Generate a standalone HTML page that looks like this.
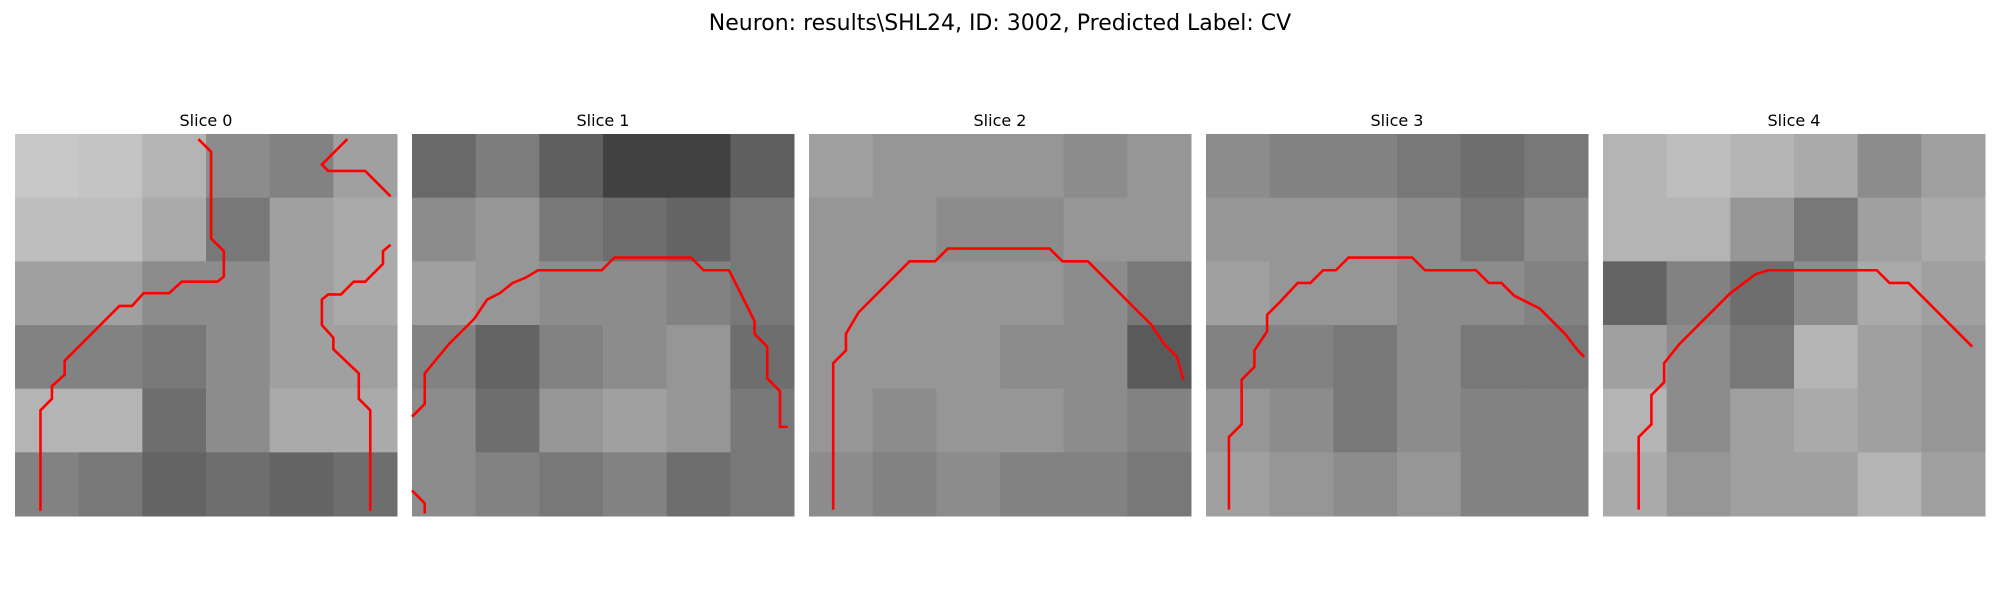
<!DOCTYPE html>
<html><head><meta charset="utf-8"><style>
html,body{margin:0;padding:0;background:#fff;}
body{width:2000px;height:600px;overflow:hidden;font-family:"Liberation Sans","DejaVu Sans",sans-serif;}
</style></head><body>
<svg id="chart" width="2000" height="600" xmlns="http://www.w3.org/2000/svg">
<text x="1000" y="30" font-size="22" text-anchor="middle" font-family="DejaVu Sans, Liberation Sans, sans-serif">Neuron: results\SHL24, ID: 3002, Predicted Label: CV</text>
</svg>
<script>
const sliceTitles = ["Slice 0","Slice 1","Slice 2","Slice 3","Slice 4"];
const brightness0 = [[200,195,180,140,130,160],[190,190,170,120,160,170],[160,160,140,140,160,170],[130,130,120,140,160,160],[180,180,110,140,170,170],[130,120,100,110,100,110]];
const brightness1 = [[105,125,95,65,65,95],[140,150,120,110,100,120],[160,150,140,140,130,120],[130,100,130,140,150,110],[140,110,150,160,150,120],[140,130,120,130,110,120]];
const brightness2 = [[160,150,150,150,140,150],[150,150,140,140,150,150],[150,150,150,150,140,120],[150,150,150,140,140,90],[150,140,150,150,140,130],[140,130,140,130,130,120]];
const brightness3 = [[140,130,130,120,110,120],[150,150,150,140,120,140],[160,150,150,140,140,130],[130,130,120,140,120,120],[150,140,120,140,130,130],[160,150,140,150,130,130]];
const brightness4 = [[180,190,180,170,140,160],[180,180,150,120,160,170],[100,130,110,140,170,160],[160,140,120,180,160,150],[180,140,160,170,160,150],[170,150,160,160,180,160]];
const brightness = [brightness0,brightness1,brightness2,brightness3,brightness4];
const traces0 = [
 [[144,4],[154,14],[154,82],[164,92],[164,112],[159,116],[131,116],[121,125],[101,125],[92,135],[82,135],[39,178],[39,189],[29,198],[29,208],[20,217],[20,296]],
 [[261,4],[241,24],[246,29],[275,29],[295,49]],
 [[295,87],[289,92],[289,102],[275,116],[266,116],[256,126],[246,126],[241,130],[241,150],[250,160],[250,169],[270,188],[270,208],[279,217],[279,296]]];
const traces1 = [
 [[0,222],[10,212],[10,188],[29,165],[39,155],[49,145],[59,130],[69,125],[79,117],[89,113],[99,107],[149,107],[159,97],[219,97],[229,107],[249,107],[259,127],[269,147],[269,157],[279,167],[279,192],[289,202],[289,230],[295,230]],
 [[0,280],[10,290],[10,298]]];
const traces2 = [[[19,295],[19,180],[29,170],[29,157],[39,140],[59,120],[79,100],[99,100],[109,90],[189,90],[199,100],[219,100],[229,110],[239,120],[249,130],[259,140],[269,150],[279,165],[289,175],[294,193]]];
const traces3 = [[[18,295],[18,238],[28,228],[28,193],[38,183],[38,170],[48,155],[48,142],[58,132],[72,117],[82,117],[92,107],[102,107],[112,97],[162,97],[172,107],[212,107],[222,117],[232,117],[242,127],[262,137],[272,147],[282,157],[292,170],[297,175]]];
const traces4 = [[[28,295],[28,238],[38,228],[38,205],[48,195],[48,180],[60,165],[100,125],[120,110],[130,107],[215,107],[225,117],[240,117],[255,132],[290,167]]];
const traces = [traces0,traces1,traces2,traces3,traces4];

const NS="http://www.w3.org/2000/svg";
const svg=document.getElementById('chart');
const PX0=15, STEP=397, PW=382, PY=134, PH=382;
function xs(i,v){return PX0+i*STEP+v/300*PW;}
function ys(v){return PY+v/300*PH;}
for(let i=0;i<5;i++){
  const g=document.createElementNS(NS,'g');
  
  
  svg.appendChild(g);
  const t=document.createElementNS(NS,'text');
  
  
  t.setAttribute('x',PX0+i*STEP+PW/2);t.setAttribute('y',126);
  t.setAttribute('font-size','16');t.setAttribute('text-anchor','middle');
  t.setAttribute('font-family','DejaVu Sans, Liberation Sans, sans-serif');
  t.textContent=sliceTitles[i];g.appendChild(t);
  const grid=brightness[i], n=grid.length, cw=PW/n;
  for(let r=0;r<n;r++)for(let c=0;c<grid[r].length;c++){
    const v=grid[r][c];
    const rc=document.createElementNS(NS,'rect');
    
    
    rc.setAttribute('x',PX0+i*STEP+c*cw);rc.setAttribute('y',PY+r*cw);
    rc.setAttribute('width',cw+0.5);rc.setAttribute('height',cw+0.5);
    rc.setAttribute('fill','rgb('+v+','+v+','+v+')');
    g.appendChild(rc);
  }
  traces[i].forEach((tr,k)=>{
    const p=document.createElementNS(NS,'polyline');
    
    
    p.setAttribute('points',tr.map(q=>xs(i,q[0])+','+ys(q[1])).join(' '));
    p.setAttribute('fill','none');p.setAttribute('stroke','#ff0000');p.setAttribute('stroke-width','2.6');
    g.appendChild(p);
  });
}
</script>
</body></html>
